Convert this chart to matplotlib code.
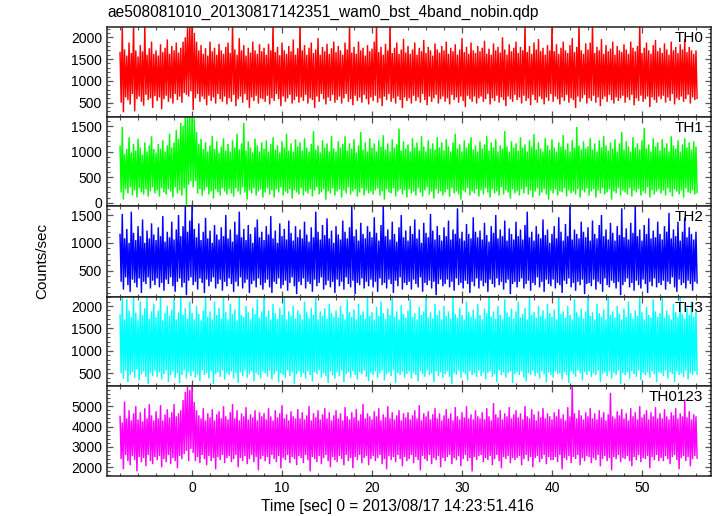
import numpy as np
import matplotlib
matplotlib.use("Agg")
import matplotlib.pyplot as plt
from matplotlib.ticker import MultipleLocator

plt.rcParams['font.family'] = ['Liberation Sans', 'DejaVu Sans']

title = "ae508081010_20130817142351_wam0_bst_4band_nobin.qdp"
xlabel = "Time [sec] 0 = 2013/08/17 14:23:51.416"
ylabel = "Counts/sec"
bands = ["TH0", "TH1", "TH2", "TH3", "TH0123"]
colors = ["#ff0000", "#00ff00", "#0000ff", "#00ffff", "#ff00ff"]
t_start = -8.0      # first bin [sec]
t_step = 0.25       # spacing of peak / trough readings [sec]

# peaks (hi) and troughs (lo), every 0.25 s
th0_hi = [1650, 2250, 1720, 1580, 1880, 1640, 2300, 1700, 1560, 1820, 1680, 2250, 1600, 1750, 1900, 1620,
          1700, 1580, 1840, 1660, 1760, 1950, 1620, 1800, 1700, 1880, 1650, 1760, 1900, 2000, 2300, 2300,
          2300, 2100, 1900, 1700, 1820, 1620, 1750, 1580, 1900, 1680, 1760, 1600, 1850, 1700, 1620, 1780,
          1880, 1640, 2300, 1720, 1600, 1980, 1700, 1820, 1580, 1760, 1650, 1900, 1700, 1620, 1840, 1680,
          1760, 1600, 1850, 1700, 2300, 1660, 1780, 1590, 1880, 1700, 1620, 1800, 1680, 1950, 1600, 1750,
          2300, 1700, 1820, 1600, 1760, 1880, 1640, 1720, 1980, 1600, 1780, 1680, 1850, 1620, 1750, 1900,
          1660, 1800, 1700, 1600, 1880, 1720, 2300, 1650, 1780, 1620, 1900, 1700, 1760, 1580, 1820, 1680,
          1740, 1900, 2300, 1660, 1780, 1600, 1850, 1700, 2280, 1640, 1760, 1880, 1620, 1720, 1960, 1650,
          1800, 1620, 1720, 1880, 1600, 1760, 1680, 1940, 1640, 1780, 1700, 1580, 1860, 1720, 1650, 1800,
          1700, 1900, 1620, 1760, 1680, 1840, 1600, 1720, 1980, 1660, 1780, 1620, 1880, 1700, 1640, 1800,
          1680, 1760, 1920, 1620, 1740, 1600, 1860, 1700, 1780, 1650, 2000, 1720, 1600, 1840, 1680, 1760,
          1900, 1640, 1780, 1700, 2300, 1660, 1800, 1620, 1880, 1720, 1960, 1680, 1760, 1600, 1820, 1700,
          2300, 1680, 1840, 1620, 1760, 1900, 1700, 1640, 1820, 1980, 1660, 1780, 2300, 1700, 1620, 1860,
          1720, 1880, 2300, 1640, 1780, 1700, 1960, 1620, 1820, 1680, 1740, 1900, 1600, 1800, 1700, 1660,
          1840, 1720, 1620, 1900, 1760, 1680, 1800, 2300, 1640, 1760, 1880, 1700, 1620, 1820, 1940, 1680,
          1760, 1640, 1860, 1720, 1600, 1900, 1700, 1780, 1640, 1840, 1720, 1960, 1660, 1780, 1700, 1620,
          1700]
th0_lo = [500, 280, 620, 560, 460, 700, 300, 580, 640, 520, 430, 680, 560, 600, 380, 650,
          540, 620, 350, 580, 660, 520, 600, 480, 700, 560, 640, 500, 720, 680, 640, 760,
          330, 600, 700, 520, 640, 580, 440, 660, 540, 620, 480, 700, 580, 520, 640, 460,
          600, 520, 680, 420, 580, 640, 500, 700, 560, 380, 620, 540, 660, 480, 600, 580,
          520, 660, 460, 600, 540, 700, 580, 420, 640, 520, 600, 680, 480, 560, 640, 500,
          620, 540, 680, 480, 600, 560, 380, 640, 520, 700, 580, 460, 620, 540, 680, 500,
          560, 640, 480, 600, 700, 520, 580, 440, 660, 540, 620, 500, 680, 580, 460, 620,
          540, 660, 500, 600, 420, 640, 560, 700, 520, 600, 480, 640, 560, 380, 620, 540,
          600, 480, 660, 540, 620, 500, 700, 560, 440, 640, 520, 600, 680, 480, 580, 640,
          520, 600, 460, 680, 560, 620, 500, 640, 540, 400, 660, 580, 520, 640, 480, 600,
          640, 520, 580, 700, 460, 600, 540, 660, 500, 620, 560, 420, 640, 580, 520, 680,
          560, 620, 480, 660, 540, 600, 440, 680, 560, 500, 640, 580, 460, 620, 540, 700,
          520, 640, 580, 460, 620, 540, 680, 500, 600, 560, 380, 640, 520, 600, 680, 480,
          600, 540, 660, 500, 620, 420, 580, 640, 520, 680, 560, 480, 620, 540, 600, 660,
          500, 620, 560, 680, 440, 600, 540, 660, 520, 580, 640, 400, 620, 560, 500, 640,
          580, 660, 500, 620, 540, 700, 460, 600, 560, 640, 520, 580, 680, 480, 620, 560,
          600]

th1_hi = [1100, 1480, 950, 1050, 1280, 980, 1150, 1020, 1250, 1080, 940, 1180, 1000, 1120, 1300, 1050,
          980, 1150, 1060, 1220, 1000, 1120, 1350, 1080, 1180, 1420, 1250, 1560, 1500, 1700, 1700, 1700,
          1700, 1650, 1380, 1150, 1250, 1050, 1180, 1000, 1120, 1300, 1050, 1200, 980, 1100, 1260, 1020,
          1150, 1000, 1220, 1080, 1350, 1040, 1160, 1560, 1020, 1200, 1080, 980, 1250, 1120, 1000, 1180,
          1060, 1220, 1000, 1150, 1280, 1040, 1120, 980, 1200, 1080, 1350, 1020, 1160, 1000, 1240, 1100,
          1180, 1020, 1260, 1080, 1000, 1150, 1400, 1040, 1120, 980, 1220, 1080, 1160, 1000, 1300, 1060,
          1000, 1200, 1080, 1150, 1300, 1020, 1160, 1060, 1240, 980, 1120, 1380, 1040, 1180, 1000, 1260,
          1080, 1160, 1000, 1220, 1100, 1320, 1040, 1160, 1000, 1240, 1080, 1140, 1450, 1020, 1200, 1060,
          1140, 1000, 1260, 1080, 1180, 1020, 1300, 1100, 1000, 1220, 1060, 1160, 1040, 1280, 1080, 1180,
          1020, 1240, 1100, 1000, 1180, 1350, 1060, 1140, 1000, 1220, 1080, 1160, 1280, 1040, 1120, 1000,
          1200, 1060, 1140, 1300, 1020, 1180, 1080, 1240, 1000, 1120, 1060, 1400, 1100, 1000, 1200, 1080,
          1160, 1020, 1280, 1080, 1140, 1000, 1220, 1100, 1340, 1040, 1180, 1060, 1000, 1260, 1120, 1040,
          1240, 1080, 1000, 1180, 1100, 1320, 1040, 1160, 1000, 1220, 1080, 1480, 1120, 1040, 1200, 1060,
          1100, 1260, 1040, 1160, 1000, 1220, 1080, 1300, 1120, 1020, 1180, 1060, 1240, 1000, 1160, 1380,
          1040, 1200, 1100, 1000, 1280, 1080, 1160, 1040, 1220, 1460, 1060, 1140, 1000, 1260, 1100, 1180,
          1020, 1240, 1080, 1160, 1000, 1300, 1120, 1060, 1220, 1000, 1140, 1260, 1080, 1180, 1040, 1200,
          1100]
th1_lo = [200, 60, 260, 180, 300, 140, 240, 100, 280, 200, 160, 260, 120, 220, 300, 180,
          240, 120, 280, 200, 160, 260, 220, 100, 300, 180, 240, 140, 280, -40, 350, 420,
          300, 420, 180, 260, 140, 240, 300, 160, 220, 80, 260, 200, 140, 280, 220, 160,
          260, 180, 120, 280, 220, 160, 300, 200, 60, 240, 180, 280, 140, 220, 260, 100,
          200, 280, 160, 240, 100, 260, 200, 300, 140, 220, 180, 260, 80, 240, 200, 160,
          280, 140, 220, 180, 260, 120, 240, 300, 160, 200, 260, 60, 220, 180, 280, 140,
          220, 260, 100, 240, 180, 300, 160, 220, 260, 120, 200, 280, 140, 240, 180, 220,
          160, 240, 280, 140, 220, 60, 260, 200, 180, 280, 120, 220, 260, 160, 240, 100,
          260, 180, 220, 140, 280, 200, 120, 240, 300, 160, 220, 80, 260, 180, 220, 140,
          200, 260, 120, 280, 180, 220, 160, 60, 240, 200, 280, 140, 220, 180, 260, 120,
          240, 160, 280, 200, 100, 260, 180, 220, 140, 300, 160, 240, 200, 80, 260, 180,
          220, 140, 260, 180, 300, 160, 240, 100, 220, 280, 140, 200, 260, 160, 60, 240,
          180, 260, 140, 220, 200, 280, 120, 240, 180, 220, 160, 260, 100, 240, 200, 280,
          140, 220, 260, 100, 240, 180, 280, 160, 200, 260, 60, 220, 180, 280, 140, 240,
          200, 160, 280, 120, 240, 200, 260, 140, 220, 180, 300, 100, 240, 160, 220, 260,
          180, 240, 140, 280, 200, 120, 260, 220, 160, 240, 100, 280, 200, 180, 240, 160,
          200]

th2_hi = [1150, 1520, 1080, 1250, 1000, 1560, 1180, 1050, 1300, 1120, 1420, 1000, 1220, 1080, 1350, 1150,
          1050, 1280, 1120, 1480, 1020, 1200, 1100, 1380, 1060, 1240, 1500, 1120, 1300, 1660, 1200, 1400,
          1660, 1250, 1100, 1350, 1050, 1200, 1450, 1080, 1220, 1000, 1320, 1150, 1060, 1280, 1120, 1500,
          1080, 1240, 1020, 1380, 1150, 1560, 1100, 1250, 1050, 1320, 1160, 1000, 1280, 1420, 1100, 1200,
          1050, 1300, 1150, 1480, 1080, 1220, 1000, 1350, 1120, 1250, 1060, 1400, 1180, 1040, 1300, 1100,
          1240, 1080, 1380, 1150, 1020, 1280, 1100, 1560, 1200, 1060, 1320, 1140, 1440, 1080, 1220, 1000,
          1300, 1150, 1060, 1400, 1200, 1080, 1280, 1660, 1120, 1240, 1040, 1360, 1160, 1080, 1300, 1200,
          1100, 1460, 1180, 1040, 1320, 1660, 1120, 1240, 1060, 1380, 1160, 1020, 1280, 1500, 1100, 1220,
          1040, 1300, 1160, 1420, 1080, 1240, 1000, 1360, 1180, 1100, 1520, 1220, 1060, 1300, 1140, 1040,
          1280, 1120, 1400, 1060, 1240, 1160, 1620, 1080, 1200, 1040, 1340, 1160, 1080, 1460, 1200, 1100,
          1220, 1060, 1360, 1140, 1020, 1300, 1180, 1500, 1080, 1240, 1120, 1400, 1040, 1260, 1160, 1060,
          1380, 1120, 1240, 1060, 1320, 1560, 1100, 1200, 1040, 1300, 1160, 1080, 1420, 1140, 1240, 1000,
          1160, 1300, 1080, 1460, 1200, 1040, 1340, 1120, 1660, 1060, 1240, 1160, 1080, 1380, 1200, 1100,
          1280, 1040, 1400, 1160, 1080, 1320, 1500, 1120, 1240, 1060, 1360, 1180, 1040, 1300, 1140, 1620,
          1100, 1260, 1060, 1360, 1180, 1660, 1120, 1240, 1040, 1320, 1160, 1440, 1080, 1220, 1100, 1380,
          1160, 1060, 1300, 1200, 1540, 1080, 1240, 1120, 1380, 1040, 1200, 1460, 1100, 1280, 1160, 1060,
          1200]
th2_lo = [300, 160, 380, 240, 120, 340, 280, 200, 360, 100, 300, 260, 380, 180, 320, 240,
          360, 200, 280, 140, 340, 260, 380, 220, 120, 300, 360, 200, 280, 60, 320, 380,
          240, 300, 160, 360, 280, 100, 340, 220, 300, 380, 180, 260, 340, 140, 300, 220,
          360, 260, 120, 300, 220, 380, 180, 280, 340, 100, 260, 320, 200, 360, 240, 160,
          280, 340, 200, 100, 300, 260, 360, 180, 240, 320, 140, 280, 380, 220, 80, 300,
          240, 360, 180, 300, 260, 120, 340, 220, 280, 380, 160, 240, 320, 200, 300, 100,
          340, 220, 300, 160, 380, 260, 200, 320, 80, 280, 240, 360, 180, 300, 220, 340,
          200, 300, 120, 360, 240, 280, 180, 340, 260, 100, 320, 220, 380, 160, 280, 240,
          300, 160, 340, 260, 200, 380, 120, 280, 240, 320, 180, 300, 60, 260, 340, 220,
          260, 340, 200, 300, 140, 360, 240, 280, 180, 320, 260, 100, 300, 220, 360, 180,
          320, 220, 280, 120, 340, 260, 200, 360, 240, 300, 160, 280, 340, 80, 260, 300,
          200, 300, 360, 180, 260, 320, 140, 280, 240, 380, 200, 300, 120, 340, 260, 220,
          340, 180, 280, 240, 100, 320, 260, 360, 200, 280, 140, 300, 240, 340, 80, 260,
          280, 220, 340, 160, 300, 260, 120, 360, 240, 200, 320, 280, 180, 300, 60, 240,
          300, 360, 200, 280, 140, 320, 240, 180, 340, 260, 100, 300, 220, 360, 200, 280,
          240, 320, 160, 300, 260, 380, 200, 120, 340, 240, 280, 180, 320, 260, 140, 300,
          280]

th3_hi = [1800, 2200, 1700, 2150, 1900, 1750, 2200, 1850, 1680, 2100, 1800, 1950, 2200, 1720, 1880, 2050,
          1750, 1900, 2200, 1680, 1850, 2000, 1780, 1920, 2150, 1700, 1860, 2200, 1800, 1950, 1720, 2100,
          1850, 1700, 2000, 1820, 1680, 1900, 2200, 1760, 1880, 1700, 2100, 1800, 1950, 1720, 2200, 1860,
          1700, 2050, 1820, 1920, 1680, 2200, 1800, 1750, 2000, 1860, 1700, 1950, 1820, 2150, 1740, 1880,
          2200, 1760, 1900, 1700, 2050, 1840, 1720, 1960, 1800, 2200, 1700, 1880, 1780, 2000, 1720, 1900,
          1820, 1700, 2100, 1860, 1740, 1950, 1800, 2200, 1700, 1880, 1780, 1950, 1720, 2050, 1840, 1760,
          1900, 1740, 2000, 1820, 1700, 2150, 1860, 1760, 1920, 1700, 2050, 1800, 1880, 1720, 2200, 1780,
          1860, 1700, 1980, 1780, 2100, 1840, 1720, 1940, 1800, 2200, 1760, 1880, 1700, 2020, 1820, 1740,
          1900, 2150, 1760, 1840, 1700, 1980, 1800, 1880, 2200, 1740, 1860, 1720, 2050, 1800, 1900, 1700,
          2000, 1780, 1880, 1720, 2200, 1820, 1740, 1960, 1800, 1700, 2100, 1860, 1760, 1920, 1720, 2050,
          1800, 1700, 1940, 1840, 2200, 1760, 1880, 1720, 2000, 1800, 1700, 2150, 1860, 1760, 1940, 1720,
          1880, 2100, 1740, 1820, 1960, 1700, 2200, 1800, 1860, 1740, 2000, 1780, 1900, 1720, 2050, 1840,
          1760, 1920, 1700, 2200, 1820, 1880, 1740, 2000, 1800, 1700, 2150, 1860, 1760, 1940, 1720, 1880,
          2200, 1780, 1860, 1700, 2050, 1840, 1760, 1920, 1700, 2200, 1800, 1880, 1740, 2000, 1820, 1700,
          1940, 1760, 2100, 1840, 1720, 1900, 1780, 2200, 1860, 1700, 1980, 1800, 1740, 2150, 1880, 1760,
          1840, 2200, 1740, 1900, 1800, 1700, 2050, 1860, 1760, 2200, 1820, 1720, 1960, 1800, 2100, 1760,
          1880]
th3_lo = [500, 380, 560, 300, 460, 520, 400, 580, 340, 480, 540, 420, 260, 500, 440, 560,
          420, 520, 360, 480, 560, 300, 460, 540, 400, 500, 280, 460, 560, 380, 520, 440,
          540, 400, 480, 320, 560, 460, 500, 380, 540, 260, 480, 520, 420, 560, 360, 500,
          460, 540, 380, 500, 280, 520, 440, 560, 400, 480, 540, 320, 500, 460, 380, 540,
          500, 420, 560, 360, 480, 540, 300, 500, 460, 400, 560, 440, 520, 260, 480, 540,
          420, 500, 380, 540, 460, 320, 520, 480, 560, 400, 500, 440, 280, 540, 460, 380,
          520, 440, 560, 300, 480, 520, 400, 540, 460, 360, 520, 480, 560, 420, 320, 500,
          460, 540, 400, 500, 560, 340, 480, 520, 440, 560, 280, 500, 460, 540, 400, 480,
          540, 380, 500, 460, 320, 540, 480, 420, 560, 460, 500, 300, 540, 440, 520, 400,
          480, 540, 420, 260, 500, 460, 560, 400, 520, 480, 340, 540, 460, 500, 420, 560,
          440, 520, 360, 500, 540, 420, 480, 300, 560, 460, 520, 400, 500, 540, 280, 480,
          520, 460, 540, 400, 320, 500, 460, 560, 440, 500, 380, 540, 480, 300, 520, 460,
          400, 540, 480, 500, 360, 520, 460, 280, 540, 480, 420, 560, 500, 340, 520, 460,
          540, 420, 500, 460, 560, 300, 480, 520, 440, 540, 380, 500, 460, 560, 260, 500,
          460, 520, 380, 540, 480, 420, 560, 340, 500, 460, 520, 400, 540, 480, 300, 520,
          500, 440, 560, 380, 520, 480, 300, 540, 460, 500, 420, 560, 360, 500, 460, 540,
          480]

th0123_hi = [4500, 4200, 5230, 4400, 4800, 4300, 4650, 5000, 4350, 4700, 4250, 4900, 4400, 5100, 4550, 4300,
             4750, 4400, 5050, 4300, 4600, 4850, 4450, 4700, 5100, 4500, 4650, 4800, 5300, 5700, 5980, 5800,
             5980, 5200, 4800, 4550, 4400, 4900, 4300, 4650, 4450, 4850, 4300, 4600, 4750, 4400, 5000, 4500,
             4350, 4700, 5100, 4400, 4800, 4300, 4650, 4500, 4950, 4350, 4600, 4450, 4800, 4300, 4700, 4500,
             4650, 4350, 4900, 4500, 4300, 4800, 4450, 4650, 5050, 4400, 4600, 4300, 4750, 4500, 4400, 4850,
             4400, 4700, 4350, 4550, 5000, 4300, 4650, 4450, 4800, 4350, 4600, 4900, 4400, 4700, 4300, 4550,
             4800, 4400, 4650, 4300, 4950, 4500, 4350, 4700, 4450, 4850, 4300, 4600, 5100, 4400, 4650, 4500,
             4350, 4750, 4500, 4900, 4300, 4600, 4450, 5000, 4400, 4700, 4350, 4550, 4800, 4300, 4650, 4450,
             4700, 4350, 4550, 4800, 4400, 5050, 4300, 4650, 4500, 4750, 4350, 4600, 4900, 4400, 4650, 4300,
             4550, 4850, 4400, 4650, 4300, 4950, 4500, 4350, 4700, 4450, 5000, 4400, 4600, 4350, 4800, 4500,
             4400, 4700, 4350, 4900, 4500, 4300, 5150, 4600, 4450, 4800, 4350, 4650, 4500, 4950, 4400, 4600,
             4800, 4450, 4650, 4350, 5000, 4500, 4400, 4850, 4600, 4300, 4750, 4450, 4900, 4400, 4650, 4500,
             4350, 4700, 4500, 4850, 4400, 4600, 4300, 4950, 4500, 5980, 4650, 4400, 4800, 4550, 4350, 4700,
             4500, 4900, 4400, 4650, 4350, 4800, 4450, 4700, 4300, 4600, 5650, 4500, 4400, 4750, 4550, 4850,
             4400, 4650, 4300, 4900, 4500, 4700, 4350, 5000, 4450, 4600, 4800, 4350, 4700, 4500, 4950, 4400,
             4650, 4400, 4850, 4500, 4350, 4700, 4550, 4900, 4400, 4650, 4500, 5330, 4450, 4750, 4350, 4600,
             4500]
th0123_lo = [2400, 1900, 2600, 2300, 2100, 2550, 2350, 1800, 2500, 2250, 2450, 2050, 2600, 2300, 2150, 2500,
             2350, 2550, 2000, 2400, 2250, 2600, 2150, 2450, 2300, 1950, 2550, 2400, 2650, 2800, 2300, 2900,
             2700, 2300, 2500, 2200, 2600, 2400, 2100, 2550, 2300, 2450, 1900, 2500, 2350, 2600, 2200, 2450,
             2550, 2250, 2400, 2600, 2000, 2450, 2300, 2550, 2150, 2400, 2600, 2250, 2500, 1850, 2400, 2550,
             2300, 2500, 2150, 2600, 2400, 2250, 2550, 1950, 2450, 2350, 2600, 2200, 2500, 2400, 2100, 2550,
             2450, 2200, 2600, 2350, 1800, 2500, 2400, 2250, 2550, 2150, 2450, 2600, 2300, 2000, 2500, 2350,
             2250, 2550, 2400, 2100, 2600, 2300, 2450, 1950, 2500, 2350, 2600, 2200, 2450, 2550, 2100, 2400,
             2550, 2300, 2450, 2600, 2150, 2400, 1900, 2550, 2350, 2500, 2250, 2600, 2400, 2050, 2500, 2300,
             2400, 2600, 2200, 2500, 2350, 1850, 2550, 2400, 2300, 2600, 2150, 2450, 2350, 2550, 2000, 2450,
             2300, 2500, 2600, 2150, 2450, 2350, 2550, 2050, 2400, 2600, 2300, 2450, 1800, 2500, 2350, 2550,
             2600, 2250, 2450, 2350, 2550, 2100, 2400, 2600, 2300, 1950, 2500, 2400, 2550, 2200, 2450, 2350,
             2450, 2550, 2100, 2400, 2600, 2300, 2500, 2000, 2450, 2550, 2250, 2400, 2600, 2150, 2500, 2350,
             2350, 2500, 2250, 2600, 1900, 2450, 2350, 2550, 2200, 2500, 2400, 2600, 2100, 2450, 2300, 2550,
             2500, 2200, 2450, 2350, 2600, 2050, 2400, 2550, 2300, 2450, 1850, 2500, 2400, 2600, 2250, 2450,
             2400, 2550, 2300, 2050, 2500, 2350, 2600, 2250, 2450, 2400, 2550, 1950, 2500, 2350, 2600, 2300,
             2450, 2300, 2550, 2400, 2150, 2500, 2600, 2350, 1900, 2450, 2550, 2300, 2500, 2050, 2400, 2550,
             2450]

his = [th0_hi, th1_hi, th2_hi, th3_hi, th0123_hi]
los = [th0_lo, th1_lo, th2_lo, th3_lo, th0123_lo]

ylims = [(183, 2236), (-65, 1686), (36, 1662), (215, 2212), (1570, 5990)]
ymajor = [500, 500, 500, 500, 1000]
yminor = [100, 100, 100, 100, 200]
xlim = (-9.45, 57.67)

W, H = 717, 516
fig = plt.figure(figsize=(W / 100, H / 100), dpi=100)
edges = [27, 116.5, 206, 296.5, 386, 476]
left, right = 107 / W, 711 / W

for i in range(5):
    bottom = 1 - edges[i + 1] / H
    height = (edges[i + 1] - edges[i]) / H
    ax = fig.add_axes([left, bottom, right - left, height])
    hi = np.array(his[i], dtype=float)
    lo = np.array(los[i], dtype=float)
    t_hi = t_start + t_step * np.arange(len(hi))
    t_lo = t_hi + t_step / 2
    t = np.empty(2 * len(hi)); y = np.empty(2 * len(hi))
    t[0::2] = t_hi; t[1::2] = t_lo
    y[0::2] = hi; y[1::2] = lo
    ax.plot(t, y, color=colors[i], lw=1.05, solid_joinstyle='miter')
    ax.set_xlim(*xlim)
    ax.set_ylim(*ylims[i])
    ax.xaxis.set_major_locator(MultipleLocator(10))
    ax.xaxis.set_minor_locator(MultipleLocator(2))
    ax.yaxis.set_major_locator(MultipleLocator(ymajor[i]))
    ax.yaxis.set_minor_locator(MultipleLocator(yminor[i]))
    ax.tick_params(which='both', direction='in', top=True, right=True, color='#555555')
    ax.tick_params(which='major', length=4, width=0.9, labelsize=10)
    ax.tick_params(which='minor', length=2, width=0.8)
    for s in ax.spines.values():
        s.set_linewidth(1.1)
        s.set_color('#222222')
    if i < 4:
        ax.tick_params(labelbottom=False)
    ax.text(0.987, 0.955, bands[i], transform=ax.transAxes, ha='right', va='top',
            fontsize=11)

fig.text(left, 1 - 12 / H, title, ha='left', va='center', fontsize=11.2)
fig.text(42 / W, 1 - 261 / H, ylabel, rotation=90, ha='center', va='center', fontsize=11)
fig.text(397 / W, 1 - 507 / H, xlabel, ha='center', va='center', fontsize=11.2)

fig.savefig("out.png", dpi=100)
